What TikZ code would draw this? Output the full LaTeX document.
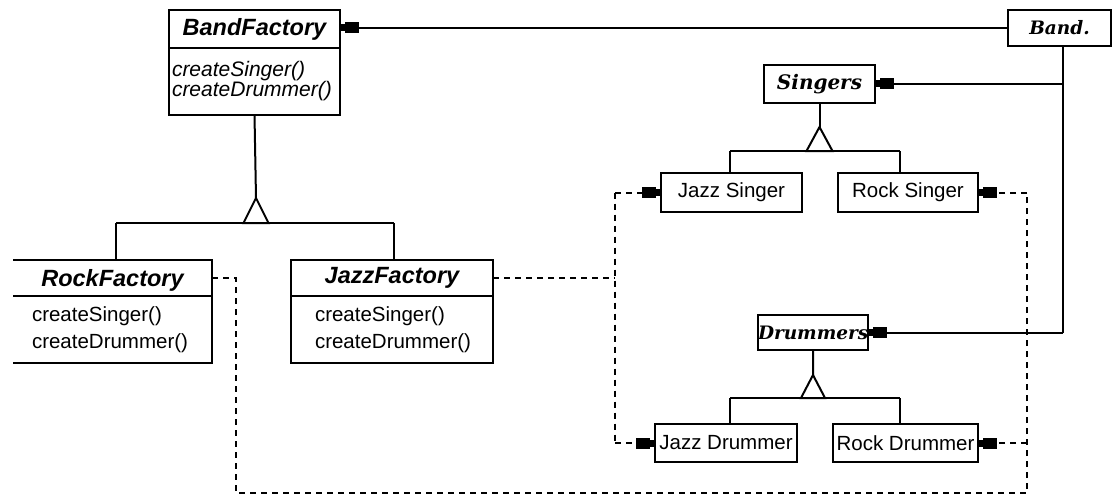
\documentclass[tikz,border=0pt]{standalone}
\usepackage{fontspec}
\setmainfont{Liberation Sans}
\newfontfamily\absfont{DejaVu Serif}
\usetikzlibrary{arrows.meta}

\tikzset{
  cls/.style={draw, rectangle, inner sep=0pt, outer sep=0pt, anchor=north west},
  txt/.style={inner sep=0pt, outer sep=0pt, anchor=west},
  ttl/.style={font=\fontsize{23.5}{28}\selectfont\bfseries\itshape},
  abst/.style={font=\absfont\fontsize{18.5}{22}\selectfont\bfseries\itshape},
  mth/.style={font=\fontsize{20.5}{24}\selectfont},
  mthi/.style={font=\fontsize{21}{24}\selectfont\itshape},
  assoc/.style={-{Rectangle[length=14pt 0 0,width=11pt 0 0] Rectangle[length=5pt 0 0,width=7pt 0 0]}},
  dep/.style={dash pattern=on 6pt off 5pt},
}

\begin{document}
\begin{tikzpicture}[x=1pt, y=-1pt, line width=2pt]
\useasboundingbox (0,0) rectangle (1112,503);

% abstract factory
\node[cls, ttl, minimum width=171, minimum height=38] (bf) at (169,10) {BandFactory};
\node[cls, minimum width=171, minimum height=67] (bfb) at (169,48) {};
\node[txt, mthi] (bfm1) at (172,71) {createSinger()};
\node[txt, mthi] (bfm2) at (172,91) {createDrummer()};

% concrete factories (left border runs off the sheet)
\begin{scope}
  \clip (13,0) rectangle (1112,503);
  \node[cls, ttl, minimum width=202, minimum height=36, text depth=0pt] (rfh) at (10,260) {\hspace*{3pt}RockFactory};
  \node[cls, minimum width=202, minimum height=67] (rfb) at (10,296) {};
\end{scope}
\node[txt, mth] (rfm1) at (32,316) {createSinger()};
\node[txt, mth] (rfm2) at (32,343) {createDrummer()};

\node[cls, ttl, minimum width=202, minimum height=36] (jfh) at (291,260) {JazzFactory};
\node[cls, minimum width=202, minimum height=67] (jfb) at (291,296) {};
\node[txt, mth] (jfm1) at (315,316) {createSinger()};
\node[txt, mth] (jfm2) at (315,343) {createDrummer()};

% products
\node[cls, abst, minimum width=103, minimum height=36] (band) at (1008,10) {Band.};
\node[cls, abst, font=\absfont\fontsize{20}{22}\selectfont\bfseries\itshape, minimum width=111, minimum height=38] (sg) at (764,65) {Singers};
\node[cls, mth, minimum width=141, minimum height=39] (js) at (661,173) {Jazz Singer};
\node[cls, mth, minimum width=140, minimum height=39] (rs) at (838,173) {Rock Singer};
\node[cls, abst, minimum width=110, minimum height=35] (dr) at (758,315) {Drummers};
\node[cls, mth, minimum width=142, minimum height=38] (jd) at (655,424) {Jazz Drummer};
\node[cls, mth, minimum width=145, minimum height=38] (rd) at (833,424) {Rock Drummer};

% factory inheritance
\coordinate (fapex) at (256,198);
\coordinate (fbL) at (116,223);
\coordinate (fbR) at (394,223);
\draw (bfb.south) -- (fapex);
\draw (fapex) -- (243.5,223) -- (268.5,223) -- cycle;
\draw (fbL) -- (fbR);
\draw (fbL) -- (fbL |- rfh.north);
\draw (fbR) -- (fbR |- jfh.north);

% singer inheritance
\coordinate (sapex) at (819.5,127);
\coordinate (sbL) at (730,151);
\coordinate (sbR) at (900,151);
\draw (sg.south) -- (sapex);
\draw (sapex) -- (806.5,151) -- (832.5,151) -- cycle;
\draw (sbL) -- (sbR);
\draw (sbL) -- (sbL |- js.north);
\draw (sbR) -- (sbR |- rs.north);

% drummer inheritance
\coordinate (dapex) at (813,375);
\coordinate (dbL) at (730,398);
\coordinate (dbR) at (900,398);
\draw (dr.south) -- (dapex);
\draw (dapex) -- (801,398) -- (825,398) -- cycle;
\draw (dbL) -- (dbR);
\draw (dbL) -- (dbL |- jd.north);
\draw (dbR) -- (dbR |- rd.north);

% band associations
\coordinate (tap) at ([xshift=3.5pt]band.south);
\draw[assoc] (band.west) -- (band.west -| bf.east);
\draw (tap) -- (tap |- dr.east);
\draw[assoc] (tap |- sg.east) -- (sg.east);
\draw[assoc] (tap |- dr.east) -- (dr.east);

% rock factory creates rock products
\coordinate (rx) at (236,493);
\coordinate (rr) at (1027,493);
\draw[dep] (rfh.east) -- (rfh.east -| rx) -- (rx) -- (rr) -- (rr |- rs.east);
\draw[dep, assoc] (rr |- rs.east) -- (rs.east);
\draw[dep, assoc] (rr |- rd.east) -- (rd.east);

% jazz factory creates jazz products
\coordinate (jx) at (615,278);
\draw[dep] (jfh.east) -- (jx);
\draw[dep] (jx |- js.west) -- (jx |- jd.west);
\draw[dep, assoc] (jx |- js.west) -- (js.west);
\draw[dep, assoc] (jx |- jd.west) -- (jd.west);
\end{tikzpicture}
\end{document}
